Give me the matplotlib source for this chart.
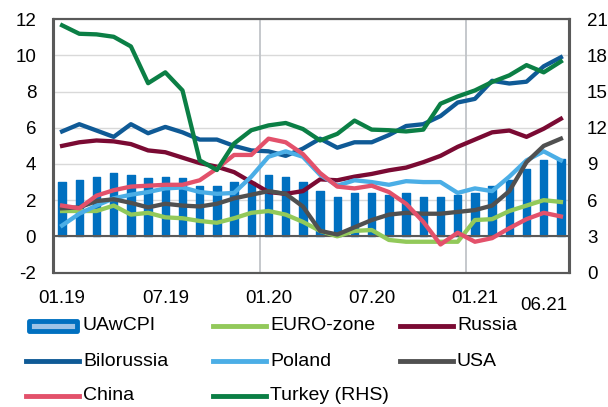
import numpy as np
import matplotlib.pyplot as plt
from matplotlib.lines import Line2D
from matplotlib.patches import Rectangle

plt.rcParams['font.family'] = ['Liberation Sans', 'DejaVu Sans']
plt.rcParams['axes.unicode_minus'] = False

# Інфляція, % р/р, помісячно 01.2019 - 06.2021
ua_cpi = [3.0, 3.1, 3.3, 3.5, 3.4, 3.2, 3.3, 3.2, 2.8, 2.8, 3.0, 3.0, 3.4, 3.3, 3.0,
          2.5, 2.2, 2.4, 2.4, 2.3, 2.4, 2.2, 2.2, 2.3, 2.4, 2.8, 3.1, 3.7, 4.2, 4.3]
euro = [1.4, 1.4, 1.4, 1.7, 1.2, 1.3, 1.05, 1.0, 0.85, 0.75, 1.0, 1.3, 1.4, 1.2, 0.8,
        0.3, 0.0, 0.3, 0.35, -0.2, -0.3, -0.3, -0.3, -0.3, 0.9, 0.95, 1.4, 1.7, 2.0, 1.9]
russia = [5.0, 5.2, 5.3, 5.25, 5.1, 4.75, 4.65, 4.35, 4.05, 3.85, 3.55, 3.0, 2.45, 2.35, 2.5,
          3.15, 3.1, 3.3, 3.45, 3.65, 3.8, 4.1, 4.45, 4.95, 5.35, 5.75, 5.85, 5.5, 5.95, 6.5]
bilorussia = [5.8, 6.2, 5.85, 5.5, 6.2, 5.7, 6.05, 5.75, 5.35, 5.35, 5.0, 4.75, 4.7, 4.45, 4.85,
              5.4, 4.9, 5.2, 5.2, 5.6, 6.1, 6.2, 6.65, 7.4, 7.6, 8.6, 8.45, 8.55, 9.4, 9.9]
poland = [0.6, 1.25, 1.7, 2.1, 2.3, 2.45, 2.65, 2.7, 2.45, 2.35, 2.4, 3.3, 4.4, 4.7, 4.4,
          3.4, 2.8, 3.1, 3.0, 2.85, 3.05, 3.0, 3.0, 2.4, 2.65, 2.5, 3.3, 4.2, 4.7, 4.2]
usa = [1.55, 1.6, 1.95, 2.05, 1.85, 1.6, 1.8, 1.7, 1.65, 1.8, 2.1, 2.3, 2.5, 2.35, 1.65,
       0.3, 0.1, 0.5, 0.9, 1.2, 1.3, 1.25, 1.25, 1.35, 1.45, 1.7, 2.5, 4.1, 5.0, 5.4]
china = [1.7, 1.55, 2.25, 2.55, 2.75, 2.8, 2.85, 2.85, 3.1, 3.75, 4.5, 4.5, 5.4, 5.2, 4.55,
         3.5, 2.75, 2.65, 2.8, 2.45, 1.8, 0.8, -0.45, 0.2, -0.3, -0.1, 0.45, 0.95, 1.3, 1.1]
turkey = [20.5, 19.8, 19.75, 19.55, 18.75, 15.7, 16.6, 15.1, 9.3, 8.5, 10.7, 11.8, 12.2, 12.4, 11.9,
          10.95, 11.5, 12.6, 11.85, 11.8, 11.7, 11.85, 14.0, 14.6, 15.1, 15.8, 16.35, 17.2, 16.6, 17.5]

tick_pos = [0, 6, 12, 18, 24]
tick_labels = ['01.19', '07.19', '01.20', '07.20', '01.21']
last_label = '06.21'

c_ua = '#0070c0'
c_euro = '#92c95a'
c_russia = '#7a0a33'
c_bilo = '#0f5a96'
c_poland = '#4baee6'
c_usa = '#505050'
c_china = '#e3516b'
c_turkey = '#0b7f45'
c_frame = '#595959'

x = np.arange(len(ua_cpi))
W, H = 608, 407

fig = plt.figure(figsize=(W / 100, H / 100), dpi=100)
ax = fig.add_axes([53.5 / W, 1 - 272.5 / H, 516 / W, 253.2 / H])
ax2 = ax.twinx()

ax.bar(x, ua_cpi, width=0.44, color=c_ua, edgecolor=c_ua, linewidth=1,
       joinstyle='round', zorder=2)
ax.axhline(0, color=c_frame, lw=1.5, zorder=3)
for p in tick_pos[2::2]:
    ax.axvline(p - 0.5, color='#c0c4c8', lw=1.3, zorder=1)

for vals, col in [(euro, c_euro), (russia, c_russia), (bilorussia, c_bilo),
                  (poland, c_poland), (usa, c_usa), (china, c_china)]:
    ax.plot(x, vals, color=col, lw=3.1, zorder=4)
ax2.plot(x, turkey, color=c_turkey, lw=3.1, zorder=4)

ax.set_xlim(-0.5, len(x) - 0.5)
ax.set_ylim(-2, 12)
ax.set_yticks(range(-2, 13, 2))
ax2.set_ylim(0, 21)
ax2.set_yticks(range(0, 22, 3))
ax.yaxis.grid(True, color='#d9d9d9', lw=1)
ax.set_axisbelow(True)

ax.set_xticks(tick_pos)
ax.set_xticklabels(tick_labels)
ax.annotate(last_label, xy=(28, 0), xycoords=('data', 'axes fraction'),
            xytext=(0, -17.5), textcoords='offset points', ha='center', va='top',
            fontsize=13.5)

ax.tick_params(length=0, pad=12.5, labelsize=13.5)
ax2.tick_params(length=0, pad=12.5, labelsize=13.5)
for a in (ax, ax2):
    for s in a.spines.values():
        s.set_color(c_frame)
        s.set_linewidth(1.5)

# Легенда (3 колонки під графіком)
entries = [('UAwCPI', None), ('EURO-zone', c_euro), ('Russia', c_russia),
           ('Bilorussia', c_bilo), ('Poland', c_poland), ('USA', c_usa),
           ('China', c_china), ('Turkey (RHS)', c_turkey)]
col_x = [26, 213, 400]
row_y = [326, 361, 396]
hl = 53
for k, (label, col) in enumerate(entries):
    x0 = col_x[k % 3]
    y0 = row_y[k // 3]
    if col is None:
        fig.add_artist(Rectangle(((x0 + 2.5) / W, 1 - (y0 + 5) / H), (hl - 5) / W, 10 / H,
                                 transform=fig.transFigure, fc='#9dc3e6', ec=c_ua,
                                 lw=3.5, joinstyle='round'))
    else:
        fig.add_artist(Line2D([x0 / W, (x0 + hl) / W], [1 - y0 / H, 1 - y0 / H],
                              transform=fig.transFigure, color=col, lw=3.5))
    fig.text((x0 + hl + 4) / W, 1 - y0 / H, label, ha='left', va='center', fontsize=14)

fig.savefig('out.png', dpi=100)
